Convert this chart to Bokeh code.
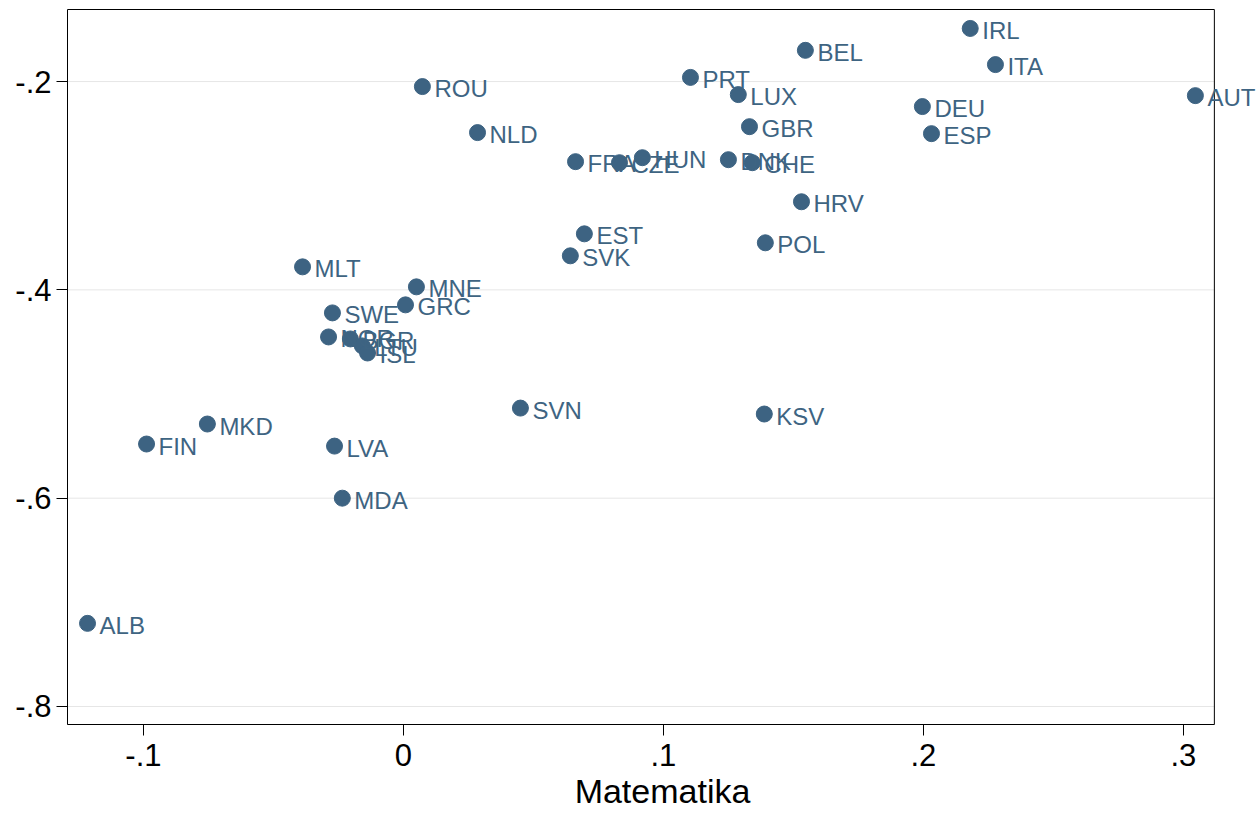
from bokeh.plotting import figure
from bokeh.models import ColumnDataSource, Range1d, FixedTicker, CustomJSTickFormatter, Label, BoxAnnotation
from bokeh.embed import file_html
from bokeh.resources import INLINE

countries = ["IRL", "BEL", "ITA", "AUT", "PRT", "ROU", "LUX", "DEU", "GBR", "NLD",
             "ESP", "FRA", "CZE", "HUN", "DNK", "CHE", "HRV", "EST", "POL", "SVK",
             "MLT", "MNE", "GRC", "SWE", "NOR", "BGR", "LTU", "ISL", "SVN", "KSV",
             "MKD", "FIN", "LVA", "MDA", "ALB"]
matematika = [0.218, 0.1546, 0.2277, 0.3046, 0.1104, 0.0073, 0.1288, 0.1996, 0.1331, 0.0285,
              0.2031, 0.0662, 0.0831, 0.0919, 0.125, 0.1342, 0.1531, 0.0696, 0.1392, 0.0642,
              -0.0388, 0.005, 0.0008, -0.0273, -0.0288, -0.0204, -0.0158, -0.0138, 0.045, 0.1388,
              -0.0754, -0.0988, -0.0265, -0.0235, -0.1215]
yvals = [-0.149, -0.170, -0.1837, -0.2135, -0.196, -0.2048, -0.2125, -0.224, -0.2433, -0.2490,
         -0.25, -0.2769, -0.2779, -0.2731, -0.275, -0.2779, -0.3154, -0.3462, -0.3548, -0.3673,
         -0.3779, -0.3971, -0.4144, -0.4221, -0.4452, -0.4471, -0.4538, -0.4606, -0.5135, -0.5192,
         -0.5288, -0.548, -0.5500, -0.6, -0.7202]

x_ticks = [-0.1, 0.0, 0.1, 0.2, 0.3]
y_ticks = [-0.8, -0.6, -0.4, -0.2]

# plot region (the drawn box); the canvas extends a bit to the right so labels may overflow
X_MIN, X_MAX = -0.1292, 0.3119
Y_MIN, Y_MAX = -0.8173, -0.1308
PX_PER_X = 2600.0
PX_PER_Y = 1040.0
LEFT_BORDER, TOP_BORDER, BOTTOM_BORDER = 67, 8, 95
WIDTH, HEIGHT = 1257, 819
x_end = X_MIN + (WIDTH - LEFT_BORDER) / PX_PER_X
y_end = Y_MAX + 1.0 / PX_PER_Y

src = ColumnDataSource(dict(x=matematika, y=yvals, name=countries))

p = figure(width=WIDTH, height=HEIGHT, output_backend="svg", toolbar_location=None,
           x_range=Range1d(X_MIN, x_end), y_range=Range1d(Y_MIN, y_end),
           min_border_left=LEFT_BORDER, min_border_right=0, min_border_top=TOP_BORDER,
           min_border_bottom=BOTTOM_BORDER)
p.background_fill_color = "white"
p.border_fill_color = "white"
p.outline_line_color = None

# horizontal grid lines, only across the plot region
p.segment(x0=[X_MIN] * len(y_ticks), y0=y_ticks, x1=[X_MAX] * len(y_ticks), y1=y_ticks,
          line_color="#e6e6e6", line_width=1)

# plot region box
p.add_layout(BoxAnnotation(left=X_MIN, right=X_MAX, bottom=Y_MIN, top=Y_MAX,
                           fill_alpha=0, fill_color=None, line_color="black",
                           line_alpha=1.0, line_width=1))

color = "#3d6382"
p.scatter("x", "y", source=src, size=16, fill_color=color, line_color=color)

for xv, yv, name in zip(matematika, yvals, countries):
    p.add_layout(Label(x=xv, y=yv, text=name, x_offset=12, y_offset=-2,
                       text_font="Liberation Sans", text_font_size="24px",
                       text_color="#3e6482", text_baseline="middle", text_align="left"))

fmt = CustomJSTickFormatter(code="""
if (Math.abs(tick) < 1e-9) return "0";
var s = tick.toFixed(1);
return s.replace(/^(-?)0\\./, "$1.");
""")

for ax in (p.xaxis[0], p.yaxis[0]):
    ax.formatter = fmt
    ax.axis_line_color = "black"
    ax.major_tick_line_color = "black"
    ax.major_tick_out = 11
    ax.major_tick_in = 0
    ax.minor_tick_line_color = None
    ax.major_label_text_font = "Liberation Sans"
    ax.major_label_text_font_size = "31px"
    ax.major_label_text_color = "black"

p.xaxis[0].bounds = (X_MIN, X_MAX)
p.yaxis[0].bounds = (Y_MIN, Y_MAX)
p.xaxis[0].major_label_standoff = 8
p.yaxis[0].major_label_standoff = 5
p.xaxis[0].ticker = FixedTicker(ticks=x_ticks)
p.yaxis[0].ticker = FixedTicker(ticks=y_ticks)
p.xaxis[0].axis_label = "Matematika"
p.xaxis[0].axis_label_text_font = "Liberation Sans"
p.xaxis[0].axis_label_text_font_size = "34px"
p.xaxis[0].axis_label_text_font_style = "normal"
p.xaxis[0].axis_label_text_color = "black"
p.xaxis[0].axis_label_standoff = 3

p.xgrid.grid_line_color = None
p.ygrid.grid_line_color = None

open("out.html", "w").write(file_html(p, INLINE))
